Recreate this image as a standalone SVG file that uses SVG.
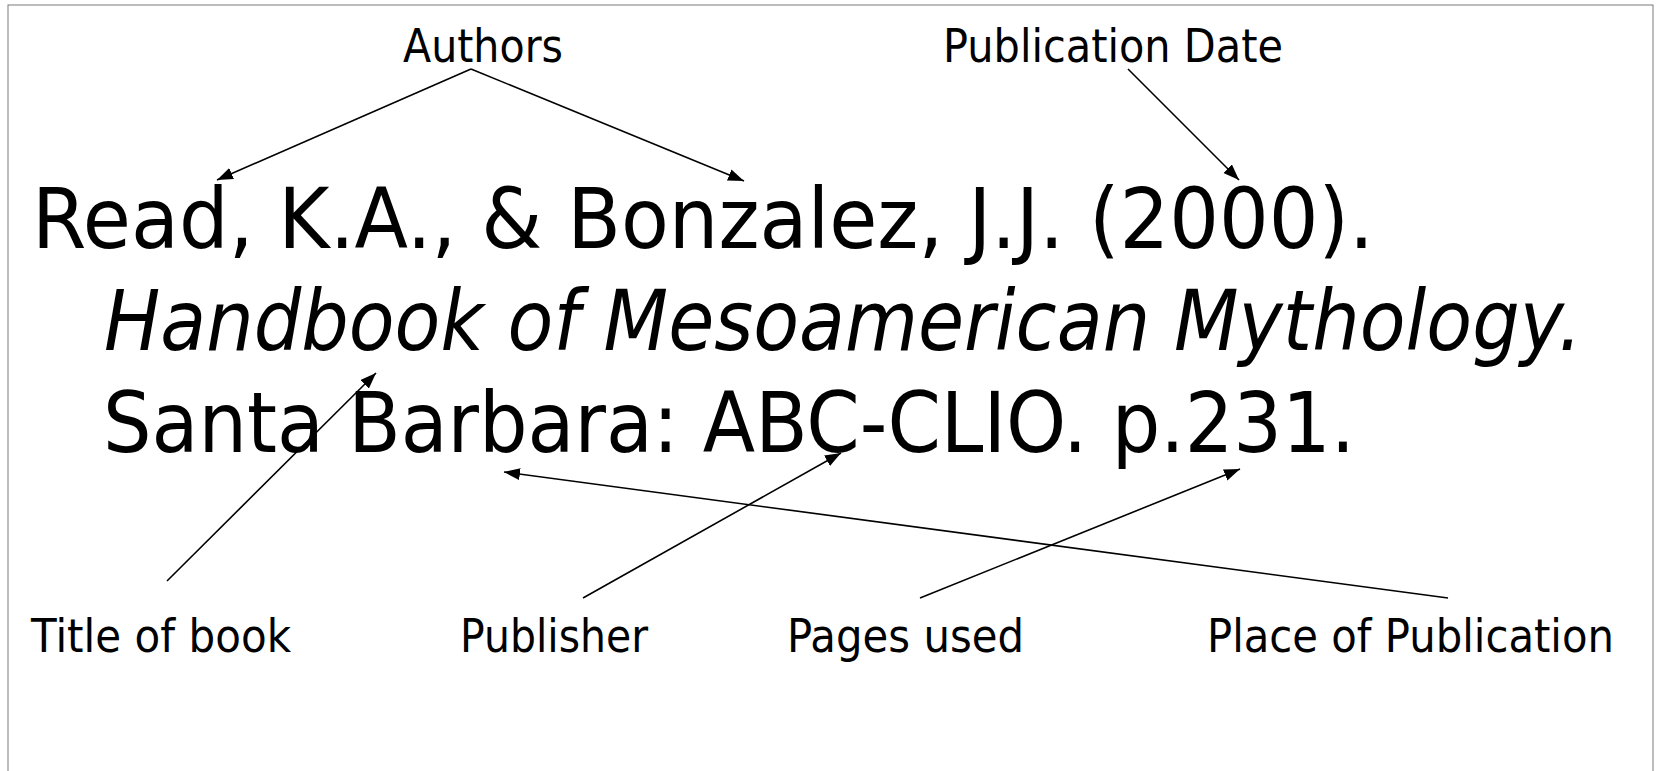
<svg xmlns="http://www.w3.org/2000/svg" width="1660" height="771" viewBox="0 0 1660 771">
<style>
.main{font-family:"DejaVu Sans","Verdana",sans-serif;font-size:84px;fill:#000}
.lbl{font-family:"DejaVu Sans","Verdana",sans-serif;font-size:46px;fill:#000}
.conn{stroke:#000;stroke-width:1.6;fill:none}
</style>
<defs>
<marker id="ah" markerUnits="userSpaceOnUse" markerWidth="18" markerHeight="14" refX="16" refY="6" orient="auto">
<path d="M0,0 L16,6 L0,12 Z" fill="#000"/>
</marker>
</defs>
<rect x="0" y="0" width="1660" height="771" fill="#fff"/>
<rect x="8" y="5" width="1645" height="800" fill="none" stroke="#7a7a7a" stroke-width="1"/>
<g id="citation">
<text class="main" x="32" y="248" textLength="1342" lengthAdjust="spacingAndGlyphs">Read, K.A., &amp; Bonzalez, J.J. (2000).</text>
<text class="main" x="104" y="350" font-style="italic" textLength="1478" lengthAdjust="spacingAndGlyphs">Handbook of Mesoamerican Mythology.</text>
<text class="main" x="103" y="452" textLength="1252" lengthAdjust="spacingAndGlyphs">Santa Barbara: ABC-CLIO. p.231.</text>
</g>
<g id="authors"><text class="lbl" x="403" y="62" textLength="160" lengthAdjust="spacingAndGlyphs">Authors</text></g>
<g id="pubdate"><text class="lbl" x="943" y="62" textLength="340" lengthAdjust="spacingAndGlyphs">Publication Date</text></g>
<g id="title"><text class="lbl" x="31" y="652" textLength="260" lengthAdjust="spacingAndGlyphs">Title of book</text></g>
<g id="publisher"><text class="lbl" x="460" y="652" textLength="188" lengthAdjust="spacingAndGlyphs">Publisher</text></g>
<g id="pages"><text class="lbl" x="787" y="652" textLength="237" lengthAdjust="spacingAndGlyphs">Pages used</text></g>
<g id="place"><text class="lbl" x="1207" y="652" textLength="407" lengthAdjust="spacingAndGlyphs">Place of Publication</text></g>
<g id="connectors">
<line class="conn" x1="471" y1="69" x2="217" y2="180" marker-end="url(#ah)"/>
<line class="conn" x1="471" y1="69" x2="744" y2="181" marker-end="url(#ah)"/>
<line class="conn" x1="1128" y1="69" x2="1239" y2="180" marker-end="url(#ah)"/>
<line class="conn" x1="167" y1="581" x2="376" y2="373" marker-end="url(#ah)"/>
<line class="conn" x1="583" y1="598" x2="841" y2="453" marker-end="url(#ah)"/>
<line class="conn" x1="920" y1="598" x2="1240" y2="469" marker-end="url(#ah)"/>
<line class="conn" x1="1448" y1="598" x2="504" y2="472" marker-end="url(#ah)"/>
</g>
</svg>
